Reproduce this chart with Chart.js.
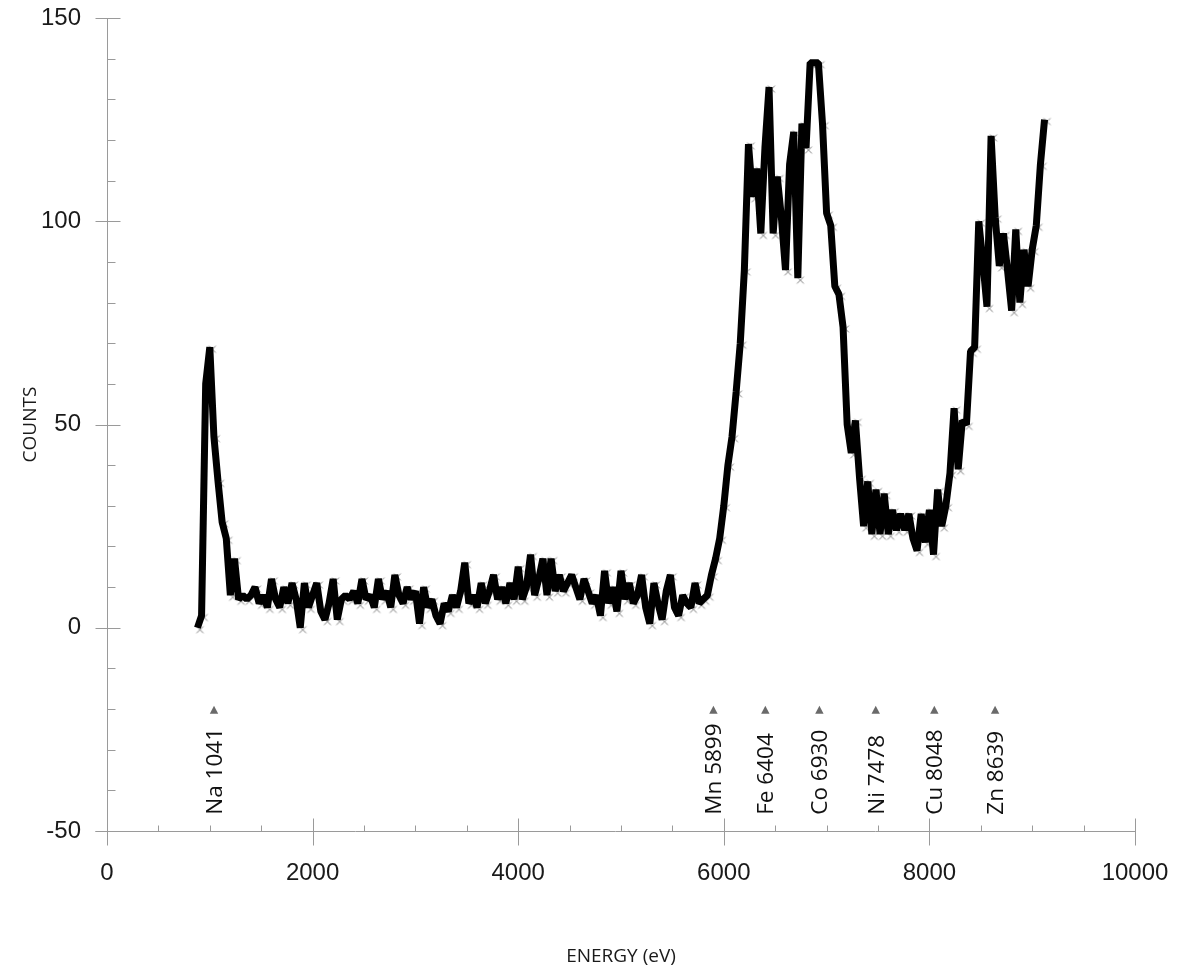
<!DOCTYPE html>
<html>
<head>
<meta charset="utf-8">
<title>XRF spectrum</title>
<script src="https://cdn.jsdelivr.net/npm/chart.js@4.4.1/dist/chart.umd.min.js"></script>
<style>
  html, body { margin: 0; padding: 0; background: #ffffff; }
  #wrap { position: relative; width: 1186px; height: 968px; }
</style>
</head>
<body>
<div id="wrap"><canvas id="chart"></canvas></div>
<script>
// ---- data ----
const ENERGY_EV = [
  880, 920, 960, 1000, 1040, 1080, 1120, 1160, 1200, 1240,
  1280, 1320, 1360, 1400, 1440, 1480, 1520, 1560, 1600, 1640,
  1680, 1720, 1760, 1800, 1840, 1880, 1920, 1960, 2000, 2040,
  2080, 2120, 2160, 2200, 2240, 2280, 2320, 2360, 2400, 2440,
  2480, 2520, 2560, 2600, 2640, 2680, 2720, 2760, 2800, 2840,
  2880, 2920, 2960, 3000, 3040, 3080, 3120, 3160, 3200, 3240,
  3280, 3320, 3360, 3400, 3440, 3480, 3520, 3560, 3600, 3640,
  3680, 3720, 3760, 3800, 3840, 3880, 3920, 3960, 4000, 4040,
  4080, 4120, 4160, 4200, 4240, 4280, 4320, 4360, 4400, 4440,
  4480, 4520, 4560, 4600, 4640, 4680, 4720, 4760, 4800, 4840,
  4880, 4920, 4960, 5000, 5040, 5080, 5120, 5160, 5200, 5240,
  5280, 5320, 5360, 5400, 5440, 5480, 5520, 5560, 5600, 5640,
  5680, 5720, 5760, 5800, 5840, 5880, 5920, 5960, 6000, 6040,
  6080, 6120, 6160, 6200, 6240, 6280, 6320, 6360, 6400, 6440,
  6480, 6520, 6560, 6600, 6640, 6680, 6720, 6760, 6800, 6840,
  6880, 6920, 6960, 7000, 7040, 7080, 7120, 7160, 7200, 7240,
  7280, 7320, 7360, 7400, 7440, 7480, 7520, 7560, 7600, 7640,
  7680, 7720, 7760, 7800, 7840, 7880, 7920, 7960, 8000, 8040,
  8080, 8120, 8160, 8200, 8240, 8280, 8320, 8360, 8400, 8440,
  8480, 8520, 8560, 8600, 8640, 8680, 8720, 8760, 8800, 8840,
  8880, 8920, 8960, 9000, 9040, 9080, 9120
];

const COUNTS = [
  0, 3, 60, 69, 47, 36, 26, 22, 8, 17,
  7, 8, 7, 8, 10, 6, 8, 5, 12, 7,
  5, 10, 6, 11, 7, 0, 11, 5, 8, 11,
  4, 2, 6, 12, 2, 7, 8, 7, 9, 6,
  12, 7, 8, 5, 12, 7, 9, 5, 13, 8,
  6, 10, 7, 9, 1, 10, 5, 7, 3, 1,
  6, 4, 8, 5, 9, 16, 6, 8, 5, 11,
  6, 9, 13, 7, 10, 6, 11, 7, 15, 7,
  10, 18, 8, 12, 17, 8, 17, 9, 13, 9,
  11, 13, 10, 7, 12, 9, 6, 8, 3, 14,
  6, 10, 4, 14, 7, 11, 6, 8, 13, 5,
  1, 11, 6, 2, 9, 13, 5, 3, 8, 6,
  5, 11, 6, 7, 8, 13, 17, 22, 30, 40,
  47, 58, 70, 88, 119, 106, 113, 97, 118, 133,
  97, 111, 101, 88, 114, 122, 86, 124, 118, 139,
  139, 139, 124, 102, 99, 84, 82, 74, 50, 43,
  51, 37, 25, 36, 23, 34, 23, 33, 23, 29,
  24, 28, 24, 28, 22, 19, 28, 21, 29, 18,
  34, 25, 30, 38, 54, 39, 51, 50, 68, 69,
  100, 90, 79, 121, 101, 89, 97, 88, 78, 98,
  80, 93, 84, 93, 99, 114, 125
];

const X_TICKS = [0, 2000, 4000, 6000, 8000, 10000];
const Y_TICKS = [-50, 0, 50, 100, 150];

const PEAK_LABELS = ['Na 1041', 'Mn 5899', 'Fe 6404', 'Co 6930', 'Ni 7478', 'Cu 8048', 'Zn 8639'];
const PEAK_ENERGIES = [1041, 5899, 6404, 6930, 7478, 8048, 8639];

// ---- styling helpers ----
const AXIS_COLOR = '#9a9a9a';
const TICK_FONT = '"Liberation Sans", Arial, Helvetica, sans-serif';
const LABEL_FONT = '"Open Sans", "Noto Sans", sans-serif';

// marker: small grey x, drawn slightly to lower right of the point
const marker = document.createElement('canvas');
marker.width = 16; marker.height = 16;
(function () {
  const m = marker.getContext('2d');
  m.strokeStyle = '#808080';
  m.lineWidth = 1;
  const cx = 10.5, cy = 10, r = 3.4;
  m.beginPath();
  m.moveTo(cx - r, cy - r); m.lineTo(cx + r, cy + r);
  m.moveTo(cx + r, cy - r); m.lineTo(cx - r, cy + r);
  m.stroke();
})();

const points = ENERGY_EV.map((e, i) => ({ x: e, y: COUNTS[i] }));

const decor = {
  id: 'decor',
  beforeDatasetsDraw(chart) {
    const ctx = chart.ctx;
    const xs = chart.scales.x, ys = chart.scales.y;
    const x0 = Math.round(xs.getPixelForValue(0)) + 0.5;
    const xr = Math.round(xs.getPixelForValue(10000)) + 0.5;
    const yb = Math.round(ys.getPixelForValue(-50)) + 0.5;
    const yt = Math.round(ys.getPixelForValue(150)) + 0.5;
    ctx.save();
    ctx.strokeStyle = AXIS_COLOR;
    ctx.lineWidth = 1;
    ctx.beginPath();
    // axis lines
    ctx.moveTo(x0, yt); ctx.lineTo(x0, yb);
    ctx.moveTo(x0 - 12, yb); ctx.lineTo(xr, yb);
    // y major ticks
    Y_TICKS.forEach(v => {
      const py = Math.round(ys.getPixelForValue(v)) + 0.5;
      ctx.moveTo(x0 - 12, py); ctx.lineTo(v === -50 ? x0 : x0 + 13, py);
    });
    // y minor ticks
    for (let v = -40; v < 150; v += 10) {
      if (v % 50 === 0) continue;
      const py = Math.round(ys.getPixelForValue(v)) + 0.5;
      ctx.moveTo(x0, py); ctx.lineTo(x0 + 8, py);
    }
    // x major ticks
    X_TICKS.forEach(v => {
      const px = Math.round(xs.getPixelForValue(v)) + 0.5;
      ctx.moveTo(px, v === 0 ? yb : yb - 13); ctx.lineTo(px, yb + 14);
    });
    // x minor ticks
    for (let v = 500; v < 10000; v += 500) {
      if (v % 2000 === 0) continue;
      const px = Math.round(xs.getPixelForValue(v)) + 0.5;
      ctx.moveTo(px, yb - 6); ctx.lineTo(px, yb);
    }
    ctx.stroke();

    // element peak markers
    PEAK_ENERGIES.forEach((e, i) => {
      const px = xs.getPixelForValue(e);
      const ty = ys.getPixelForValue(-20.3);
      ctx.fillStyle = '#6a6a6a';
      ctx.beginPath();
      ctx.moveTo(px, ty - 4.5);
      ctx.lineTo(px + 4.2, ty + 3.5);
      ctx.lineTo(px - 4.2, ty + 3.5);
      ctx.closePath();
      ctx.fill();
      ctx.save();
      ctx.translate(px + 1.5, ys.getPixelForValue(-46));
      ctx.rotate(-Math.PI / 2);
      ctx.fillStyle = '#111111';
      ctx.font = '22.5px ' + LABEL_FONT;
      ctx.textAlign = 'left';
      ctx.textBaseline = 'middle';
      ctx.fillText(PEAK_LABELS[i], 0, 0);
      ctx.restore();
    });
    ctx.restore();
  }
};

const hiddenTickGrid = len => ({
  display: true,
  drawOnChartArea: false,
  drawTicks: true,
  tickLength: len,
  color: 'rgba(0,0,0,0)'
});

new Chart(document.getElementById('chart'), {
  type: 'scatter',
  data: {
    datasets: [
      {
        label: 'COUNTS',
        data: points,
        showLine: true,
        borderColor: '#000000',
        backgroundColor: '#000000',
        borderWidth: 7,
        borderJoinStyle: 'bevel',
        borderCapStyle: 'butt',
        pointRadius: 0,
        pointHoverRadius: 0,
        tension: 0,
        order: 1
      },
      {
        label: 'markers',
        data: points,
        showLine: false,
        pointStyle: marker,
        pointRadius: 4,
        order: 2
      }
    ]
  },
  options: {
    responsive: true,
    maintainAspectRatio: false,
    animation: false,
    devicePixelRatio: 1,
    layout: { padding: { top: 18, right: 51, left: 0, bottom: 0 } },
    plugins: { legend: { display: false }, tooltip: { enabled: false } },
    scales: {
      x: {
        type: 'linear',
        min: 0, max: 10000,
        afterBuildTicks: s => { s.ticks = X_TICKS.map(v => ({ value: v })); },
        afterFit: s => { s.height = 137; },
        grid: hiddenTickGrid(28),
        border: { display: false },
        ticks: {
          color: '#1a1a1a',
          font: { family: TICK_FONT, size: 24 },
          padding: 0,
          maxRotation: 0,
          autoSkip: false,
          callback: v => String(v)
        },
        title: {
          display: true,
          text: 'ENERGY (eV)',
          color: '#1a1a1a',
          font: { family: LABEL_FONT, size: 19 },
          padding: { top: 9, bottom: 0 }
        }
      },
      y: {
        type: 'linear',
        min: -50, max: 150,
        afterBuildTicks: s => { s.ticks = Y_TICKS.map(v => ({ value: v })); },
        afterFit: s => { s.width = 107; },
        grid: hiddenTickGrid(26),
        border: { display: false },
        ticks: {
          color: '#1a1a1a',
          font: { family: TICK_FONT, size: 24 },
          padding: 0,
          autoSkip: false,
          callback: v => String(v)
        },
        title: {
          display: true,
          text: 'COUNTS',
          color: '#1a1a1a',
          font: { family: LABEL_FONT, size: 19 },
          padding: { top: 19, bottom: 0 }
        }
      }
    }
  },
  plugins: [decor]
});
</script>
</body>
</html>
